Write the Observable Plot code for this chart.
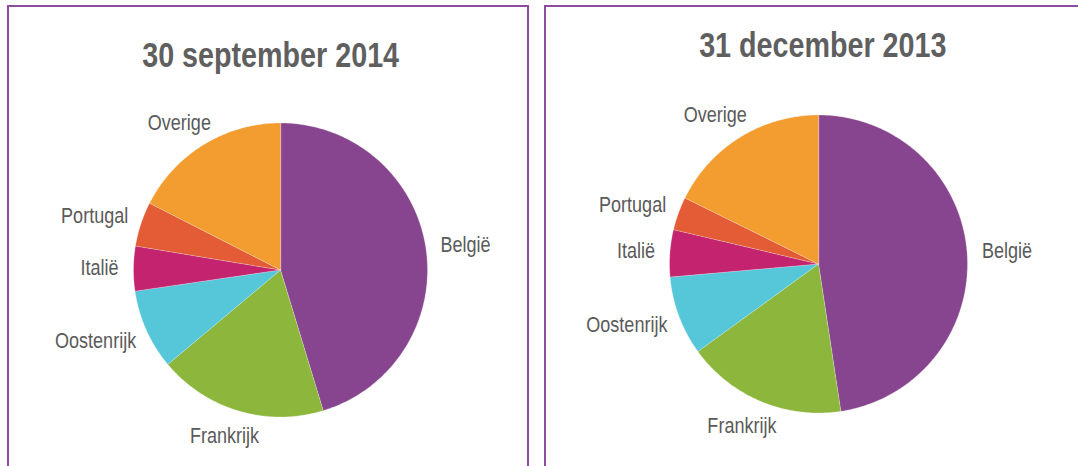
<!DOCTYPE html>
<html><head><meta charset="utf-8">
<script src="https://cdn.jsdelivr.net/npm/d3@7"></script>
<script src="https://cdn.jsdelivr.net/npm/@observablehq/plot@0.6"></script>
<style>
html,body{margin:0;padding:0;background:#fff;width:1078px;height:466px;overflow:hidden;position:relative;}
.panel{position:absolute;top:5px;height:480px;border:2px solid #8D4C9C;border-bottom:none;box-sizing:border-box;}
.title{position:absolute;text-align:center;font-weight:bold;font-size:35px;line-height:40px;color:#5f5f5f;white-space:nowrap;}
.title span{display:inline-block;transform-origin:50% 50%;}
.chart{position:absolute;}
</style></head><body>
<div class="panel" style="left:7px;width:522px"></div>
<div class="panel" style="left:544px;width:560px"></div>
<script>
// ---- data ----
const categories = ["België", "Frankrijk", "Oostenrijk", "Italië", "Portugal", "Overige"];
const sliceColors = ["#88458F", "#8DB63C", "#56C7D9", "#C4246F", "#E35C35", "#F39C30"];
const titles = ["30 september 2014", "31 december 2013"];
const shares2014 = [45.3, 18.6, 8.8, 4.9, 4.9, 17.5];
const shares2013 = [47.6, 17.4, 8.6, 5.1, 3.6, 17.7];

// ---- font detection ----
const cv = document.createElement("canvas").getContext("2d");
function w(font, s) { cv.font = font; return cv.measureText(s).width; }
const hasNarrow = w("22px 'Liberation Sans Narrow', monospace", "België Oostenrijk") === w("22px 'Liberation Sans Narrow', serif", "België Oostenrijk");
const FONT = hasNarrow ? "'Liberation Sans Narrow', 'Liberation Sans', Arial, sans-serif" : "'Liberation Sans', Arial, sans-serif";
const SX = hasNarrow ? 1 : 0.82;
const LABEL_SIZE = 22;
function textWidth(s) { return w(`${LABEL_SIZE}px ${FONT}`, s) * SX; }

// ---- layout ----
const panels = [
  {values: shares2014, title: titles[0], titleLeft: 7, titleWidth: 528, titleTop: 35, L: 9, T: 80, W: 517, H: 386, cx: 280, cy: 269.5, r: 147},
  {values: shares2013, title: titles[1], titleLeft: 544, titleWidth: 558, titleTop: 25, L: 546, T: 80, W: 532, H: 386, cx: 818, cy: 263.5, r: 149}
];

panels.forEach(p => {
  const t = document.createElement("div");
  t.className = "title";
  t.style.left = p.titleLeft + "px";
  t.style.width = p.titleWidth + "px";
  t.style.top = p.titleTop + "px";
  t.style.fontFamily = FONT;
  const sp = document.createElement("span");
  sp.textContent = p.title;
  sp.style.transform = `scaleX(${SX})`;
  t.appendChild(sp);
  document.body.appendChild(t);

  const rows = categories.map((c, i) => ({category: c, value: p.values[i]}));
  const arcs = d3.pie().sort(null).value(d => d.value).startAngle(0).endAngle(2 * Math.PI)(rows);
  const pts = [];
  const labels = [];
  arcs.forEach(a => {
    const c = a.data.category;
    pts.push({category: c, x: 0, y: 0});
    const n = Math.max(2, Math.ceil((a.endAngle - a.startAngle) / (Math.PI / 180)));
    for (let k = 0; k <= n; k++) {
      const ang = a.startAngle + (a.endAngle - a.startAngle) * k / n;
      pts.push({category: c, x: Math.sin(ang), y: Math.cos(ang)});
    }
    const m = (a.startAngle + a.endAngle) / 2;
    const gap = 15;
    const tw = textWidth(c), th = LABEL_SIZE;
    const R = (p.r + gap) / p.r;
    labels.push({
      category: c,
      x: R * Math.sin(m) + Math.sin(m) * tw / 2 / p.r,
      y: R * Math.cos(m) + Math.cos(m) * th / 2 / p.r
    });
  });

  const ox = p.cx - p.L, oy = p.cy - p.T;
  const chart = Plot.plot({
    width: p.W, height: p.H,
    margin: 0,
    x: {domain: [-ox / p.r, (p.W - ox) / p.r], axis: null},
    y: {domain: [-(p.H - oy) / p.r, oy / p.r], axis: null},
    color: {domain: categories, range: sliceColors},
    marks: [
      Plot.line(pts, {x: "x", y: "y", z: "category", fill: "category", stroke: "white", strokeWidth: 0.25, curve: "linear-closed"}),
      Plot.text(labels, {x: "x", y: "y", text: "category", fontSize: LABEL_SIZE, fontFamily: FONT, fill: "#5a5a5a", textAnchor: "middle", lineAnchor: "middle"})
    ]
  });
  chart.style.position = "absolute";
  chart.style.left = p.L + "px";
  chart.style.top = p.T + "px";
  chart.style.overflow = "visible";
  document.body.appendChild(chart);
  if (SX !== 1) {
    d3.select(chart).selectAll("text").each(function() {
      const el = d3.select(this);
      const tr = el.attr("transform");
      if (tr) el.attr("transform", tr + ` scale(${SX},1)`);
      else {
        const x = +el.attr("x") || 0, y = +el.attr("y") || 0;
        el.attr("x", null).attr("y", null).attr("transform", `translate(${x},${y}) scale(${SX},1)`);
      }
    });
  }
});
</script>
</body></html>
